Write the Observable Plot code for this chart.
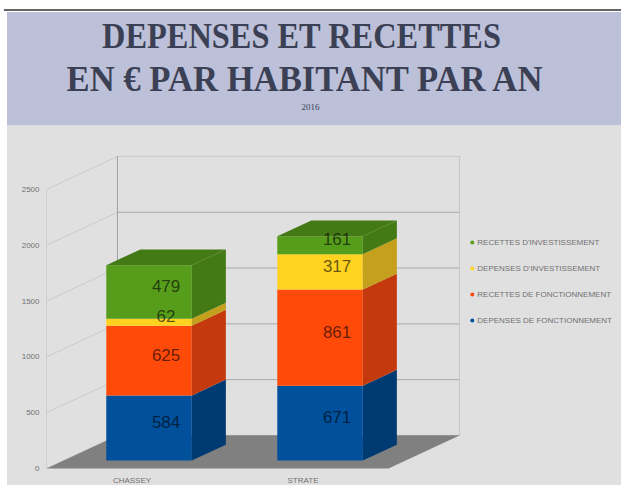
<!DOCTYPE html>
<html><head><meta charset="utf-8">
<script src="https://cdn.jsdelivr.net/npm/d3@7"></script>
<script src="https://cdn.jsdelivr.net/npm/@observablehq/plot@0.6"></script>
<style>
html,body{margin:0;padding:0;background:#fff;width:621px;height:485px;overflow:hidden}
#rule{height:9px;border-bottom:2px solid #666;margin-left:4px;margin-bottom:1px}
#banner{margin-left:7px;height:113px;background:#bcc0d8;position:relative;overflow:hidden;color:#3b4055;font-family:"Liberation Serif",serif;text-align:center}
#banner div{position:absolute;white-space:nowrap}
.t{font-weight:bold;font-size:35px;line-height:40px;width:621px}
#t1{top:5px;left:-16.5px;transform:scaleX(.925)}
#t2{top:48px;left:-13px;transform:scaleX(.99)}
#yr{top:90px;left:-7px;width:621px;font-size:9px}
#chart{margin-left:7px;background:#e0e0e0;height:360px;width:614px}
svg{display:block}
</style></head><body>
<div id="rule"></div>
<div id="banner"><div id="t1" class="t">DEPENSES ET RECETTES</div><div id="t2" class="t">EN € PAR HABITANT PAR AN</div><div id="yr">2016</div></div>
<div id="chart"></div>
<script>
const categories=["CHASSEY","STRATE"];
const series=["DEPENSES DE FONCTIONNEMENT","RECETTES DE FONCTIONNEMENT","DEPENSES D'INVESTISSEMENT","RECETTES D'INVESTISSEMENT"];
const valuesCat0=[584,625,62,479];
const valuesCat1=[671,861,317,161];
const frontColors=["#01509c","#ff4a0a","#ffd320","#579d1c"];
const sideColors=["#003a72","#c43a0c","#c4a01c","#437a15"];
const topColor="#437a15";
const yTicks=[0,500,1000,1500,2000,2500];
const legendOrder=[3,2,1,0];
const depthX=0.415, depthY=296, barFront=0.24, barBack=0.72, halfBar=0.25;
const xMin=-0.5, xMax=1.5, yMax=2500;
const px=(x,d)=>x+d*depthX, py=(y,d)=>y+d*depthY;
const P=(x,y,d)=>({x:px(x,d),y:py(y,d)});
const allValues=[valuesCat0,valuesCat1];

function face(id,color,pts){return pts.map(p=>({id,color,...p}));}
const faces=[]; const labels=[];
allValues.forEach((vals,c)=>{
  let base=0;
  vals.forEach((v,s)=>{
    const t=base+v, l=c-halfBar, r=c+halfBar;
    faces.push(...face(`f${c}${s}`,frontColors[s],[P(l,base,barFront),P(r,base,barFront),P(r,t,barFront),P(l,t,barFront)]));
    faces.push(...face(`s${c}${s}`,sideColors[s],[P(r,base,barFront),P(r,base,barBack),P(r,t,barBack),P(r,t,barFront)]));
    const m=(barFront+barBack)/2;
    labels.push({...P(c,base+v/2,m),v});
    base=t;
  });
  const l=c-halfBar,r=c+halfBar;
  faces.push(...face(`t${c}`,topColor,[P(l,base,barFront),P(r,base,barFront),P(r,base,barBack),P(l,base,barBack)]));
});
const floor=face("floor","#808080",[P(xMin,0,0),P(xMax,0,0),P(xMax,0,1),P(xMin,0,1)]);
const wallGrid=yTicks.flatMap(t=>[{t,...P(xMin,t,0)},{t,...P(xMin,t,1)}]);
const backGrid=yTicks.flatMap(t=>{const c=t===yMax?"#cccccc":"#a8a8a8";return [{t,c,...P(xMin,t,1)},{t,c,...P(xMax,t,1)}];});
const vEdges=[
 {id:"a",...P(xMin,0,1),c:"#a0a0a0"},{id:"a",...P(xMin,yMax,1),c:"#a0a0a0"},
 {id:"b",...P(xMax,0,1),c:"#c6c6c6"},{id:"b",...P(xMax,yMax,1),c:"#c6c6c6"},
 {id:"c",...P(xMin,0,0),c:"#d0d0d0"},{id:"c",...P(xMin,yMax,0),c:"#d0d0d0"}];
const legendRows=legendOrder.map((s,i)=>({s,name:series[s],color:frontColors[s],row:i}));
const legendX=1.99, legendY=r=>2025-r*233;

const plot=Plot.plot({
  width:614,height:360,marginLeft:0,marginRight:0,marginTop:0,marginBottom:0,
  style:{background:"transparent",overflow:"visible"},
  x:{type:"linear",domain:[xMin,xMax],range:[39,381],axis:null},
  y:{type:"linear",domain:[0,yMax],range:[343,64],axis:null},
  color:{type:"identity"},
  marks:[
    Plot.line(wallGrid,{x:"x",y:"y",z:"t",stroke:"#cbcbcb",strokeWidth:1}),
    Plot.line(backGrid,{x:"x",y:"y",z:"t",stroke:"c",strokeWidth:1}),
    Plot.line(vEdges,{x:"x",y:"y",z:"id",stroke:"c",strokeWidth:1}),
    Plot.line(floor,{x:"x",y:"y",z:"id",fill:"color",stroke:"none"}),
    Plot.line(faces,{x:"x",y:"y",z:"id",fill:"color",stroke:"none"}),
    Plot.text(labels,{x:"x",y:"y",dy:2.5,text:d=>String(d.v),fill:"#000",fillOpacity:.62,fontSize:17,fontFamily:"Liberation Sans"}),
    Plot.text(yTicks,{x:xMin,y:d=>d,dx:-7,text:d=>String(d),textAnchor:"end",fill:"#707070",fontSize:8,fontFamily:"Liberation Sans"}),
    Plot.text(categories,{x:(d,i)=>i,y:0,dy:12,text:d=>d,fill:"#707070",fontSize:8,fontFamily:"Liberation Sans"}),
    Plot.dot(legendRows,{x:legendX,y:d=>legendY(d.row),r:2,fill:"color"}),
    Plot.text(legendRows,{x:legendX,y:d=>legendY(d.row),dx:5,text:"name",textAnchor:"start",fill:"#707070",fontSize:8,fontFamily:"Liberation Sans"})
  ]
});
document.getElementById("chart").append(plot);
</script></body></html>
